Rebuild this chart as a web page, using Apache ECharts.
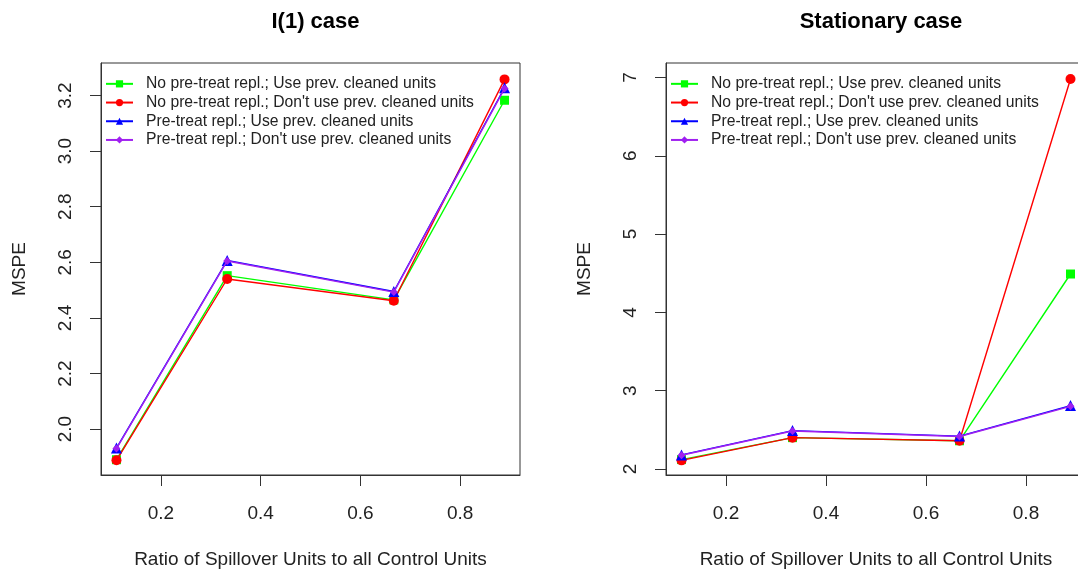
<!DOCTYPE html>
<html>
<head>
<meta charset="utf-8">
<script src="https://cdn.jsdelivr.net/npm/echarts@6/dist/echarts.min.js"></script>
<style>
html,body{margin:0;padding:0;background:#fff;}
#chart{width:1078px;height:574px;}
</style>
</head>
<body>
<div id="chart"></div>
<script>
// ---- data ----
const xRatio = [0.111, 0.333, 0.667, 0.889];
const seriesNames = [
  "No pre-treat repl.; Use prev. cleaned units",
  "No pre-treat repl.; Don't use prev. cleaned units",
  "Pre-treat repl.; Use prev. cleaned units",
  "Pre-treat repl.; Don't use prev. cleaned units"
];
// I(1) case
const i1NoPreUse     = [1.890, 2.552, 2.465, 3.183];
const i1NoPreDont    = [1.888, 2.540, 2.462, 3.258];
const i1PreUse       = [1.932, 2.607, 2.495, 3.228];
const i1PreDont      = [1.930, 2.605, 2.493, 3.225];
// Stationary case
const stNoPreUse     = [2.12, 2.40, 2.36, 4.49];
const stNoPreDont    = [2.11, 2.40, 2.36, 6.98];
const stPreUse       = [2.18, 2.49, 2.42, 2.81];
const stPreDont      = [2.175, 2.485, 2.415, 2.80];
// tick labels
const xTicks = [0.2, 0.4, 0.6, 0.8];
const yTicksI1 = [2.0, 2.2, 2.4, 2.6, 2.8, 3.0, 3.2];
const yTicksSt = [2, 3, 4, 5, 6, 7];
const panelTitles = ["I(1) case", "Stationary case"];
const xName = "Ratio of Spillover Units to all Control Units";
const yName = "MSPE";

// ---- styles ----
const colors = ["#00FF00", "#FF0000", "#0000FF", "#A020F0"];
const symbols = ["rect", "circle", "triangle", "diamond"];
const symbolSizes = [9, 10, 11, 8];
const FONT = "'Liberation Sans', Arial, sans-serif";
const TXT = "#222";

const pairs = (ys) => ys.map((y, i) => [xRatio[i], y]);

function makeSeries(sets, idx) {
  return sets.map((ys, k) => ({
    name: seriesNames[k],
    type: "line",
    xAxisIndex: idx,
    yAxisIndex: idx,
    data: pairs(ys),
    symbol: symbols[k],
    symbolSize: symbolSizes[k],
    showAllSymbol: true,
    color: colors[k],
    lineStyle: { width: 1.4, color: colors[k] },
    itemStyle: { color: colors[k] },
    clip: false,
    z: 2 + k
  }));
}

function xAxisDef(gi) {
  return {
    type: "value", gridIndex: gi, min: 0.08, max: 0.92,
    name: xName, nameLocation: "middle", nameGap: 75,
    nameTextStyle: { fontFamily: FONT, fontSize: 19, color: TXT },
    axisLine: { show: true, onZero: false, lineStyle: { color: "#333", width: 1 } },
    axisTick: { show: true, length: 11, inside: false, customValues: xTicks, lineStyle: { color: "#333" } },
    axisLabel: { customValues: xTicks, margin: 29, fontFamily: FONT, fontSize: 19, color: TXT,
                 formatter: v => v.toFixed(1) },
    splitLine: { show: false }
  };
}

function yAxisDef(gi, min, max, ticks, fmt) {
  return {
    type: "value", gridIndex: gi, min: min, max: max,
    name: yName, nameLocation: "middle", nameGap: 72, nameRotate: 90,
    nameTextStyle: { fontFamily: FONT, fontSize: 19, color: TXT },
    axisLine: { show: true, onZero: false, lineStyle: { color: "#333", width: 1 } },
    axisTick: { show: true, length: 11, inside: false, customValues: ticks, lineStyle: { color: "#333" } },
    axisLabel: { customValues: ticks, rotate: 90, margin: 26, fontFamily: FONT, fontSize: 19, color: TXT,
                 formatter: fmt },
    splitLine: { show: false }
  };
}

function legendDef(left) {
  return {
    show: true, orient: "vertical", left: left, top: 63,
    padding: [11.5, 4, 8, 4],
    itemWidth: 27, itemHeight: 9, itemGap: 0,
    data: seriesNames,
    textStyle: { fontFamily: FONT, fontSize: 15.7, color: TXT, lineHeight: 18.7, padding: [0, 0, 0, 8] },
    selectedMode: false
  };
}

const chart = echarts.init(document.getElementById("chart"), null, { renderer: "canvas" });
chart.setOption({
  animation: false,
  backgroundColor: "#ffffff",
  title: [
    { text: panelTitles[0], left: 310.5, top: 6, textAlign: "center",
      textStyle: { fontFamily: FONT, fontWeight: "bold", fontSize: 22, color: "#000" } },
    { text: panelTitles[1], left: 876, top: 6, textAlign: "center",
      textStyle: { fontFamily: FONT, fontWeight: "bold", fontSize: 22, color: "#000" } }
  ],
  legend: [legendDef(101), legendDef(666)],
  grid: [
    { left: 101, top: 63, width: 419, height: 412, show: true, borderColor: "#333", borderWidth: 1,
      backgroundColor: "transparent", outerBoundsMode: "none", containLabel: false },
    { left: 666, top: 63, width: 420, height: 412, show: true, borderColor: "#333", borderWidth: 1,
      backgroundColor: "transparent", outerBoundsMode: "none", containLabel: false }
  ],
  xAxis: [xAxisDef(0), xAxisDef(1)],
  yAxis: [
    yAxisDef(0, 1.835, 3.317, yTicksI1, v => v.toFixed(1)),
    yAxisDef(1, 1.923, 7.185, yTicksSt, v => String(Math.round(v)))
  ],
  series: [
    ...makeSeries([i1NoPreUse, i1NoPreDont, i1PreUse, i1PreDont], 0),
    ...makeSeries([stNoPreUse, stNoPreDont, stPreUse, stPreDont], 1)
  ]
});
</script>
</body>
</html>
